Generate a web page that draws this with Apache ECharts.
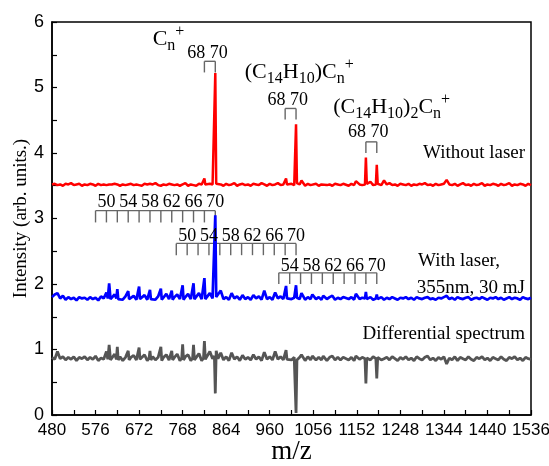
<!DOCTYPE html>
<html>
<head>
<meta charset="utf-8">
<script src="https://cdn.jsdelivr.net/npm/echarts@6/dist/echarts.min.js"></script>
<style>
  html, body { margin: 0; padding: 0; background: #fff; }
  #chart { width: 549px; height: 466px; }
</style>
</head>
<body>
<div id="chart"></div>
<script>
// ---------- DATA ----------
const mz = [
  480,486,492,498,504,510,516,522,528,534,540,546,552,558,564,570,576,582,588,594,
  598,600,603,606,609,612,618,622,624,626,630,636,642,646,648,650,
  654,660,666,670,672,674,678,684,690,694,696,698,702,708,714,718,720,722,
  726,732,738,742,744,746,750,756,762,766,768,770,774,780,786,790,792,794,
  798,804,810,814,816,818,822,828,834,838,840,842,846,852,
  858,864,870,876,882,888,894,900,906,912,918,924,930,936,942,948,954,960,966,972,978,984,990,
  994,996,998,1002,1008,1014,1016,1018,1020,1026,1030,1038,1044,1050,
  1054,1062,1068,1074,1078,1086,1092,1098,1104,1110,1116,1122,1126,1134,1140,1146,1150,1158,1164,
  1170,1172,1174,1182,1188,1194,1196,1198,1206,1212,
  1218,1224,1230,1236,1242,1248,1254,1260,1266,1272,1278,1284,1290,1296,1302,1308,1314,1320,1326,1332,
  1338,1344,1350,1356,1362,1368,1374,1380,1386,1392,1398,1404,1410,1416,1422,1428,1434,1440,1446,1452,
  1458,1464,1470,1476,1482,1488,1494,1500,1506,1512,1518,1524,1530,1536
];

const withoutLaser = [
  3.52,3.53,3.51,3.52,3.50,3.53,3.52,3.54,3.51,3.52,3.53,3.50,3.52,3.51,3.53,3.52,3.50,3.53,3.51,3.52,
  3.52,3.51,3.53,3.52,3.50,3.52,3.53,3.51,3.52,3.54,3.50,3.52,3.51,3.53,3.52,3.50,
  3.53,3.51,3.52,3.54,3.51,3.52,3.50,3.53,3.52,3.51,3.53,3.50,3.52,3.54,3.51,3.52,3.50,3.53,
  3.52,3.51,3.53,3.50,3.52,3.54,3.51,3.52,3.50,3.53,3.52,3.51,3.54,3.50,3.52,3.53,3.51,3.52,
  3.50,3.53,3.52,3.54,3.61,3.52,3.51,3.53,3.52,3.54,5.22,3.53,3.51,3.52,
  3.50,3.53,3.51,3.52,3.54,3.50,3.52,3.53,3.51,3.52,3.50,3.53,3.52,3.51,3.54,3.52,3.50,3.53,3.51,3.52,3.54,3.51,3.52,
  3.52,3.61,3.52,3.50,3.53,3.51,3.52,4.44,3.54,3.52,3.58,3.50,3.53,3.51,
  3.51,3.53,3.50,3.52,3.54,3.51,3.52,3.50,3.53,3.52,3.51,3.53,3.52,3.50,3.53,3.51,3.57,3.52,3.51,
  3.52,3.93,3.53,3.56,3.51,3.52,3.82,3.53,3.51,3.58,
  3.52,3.54,3.51,3.52,3.50,3.53,3.52,3.51,3.53,3.50,3.52,3.51,3.53,3.52,3.54,3.51,3.52,3.50,3.53,3.51,
  3.52,3.53,3.59,3.52,3.51,3.53,3.50,3.52,3.54,3.51,3.52,3.50,3.53,3.51,3.52,3.54,3.50,3.52,3.51,3.53,
  3.52,3.50,3.53,3.51,3.52,3.54,3.50,3.52,3.51,3.53,3.52,3.50,3.53,3.51
];

const withLaser = [
  1.80,1.84,1.86,1.78,1.82,1.76,1.80,1.77,1.79,1.75,1.80,1.78,1.79,1.76,1.80,1.77,1.79,1.75,1.81,1.78,
  1.79,1.87,1.78,2.01,1.77,1.80,1.84,1.78,1.92,1.77,1.80,1.76,1.81,1.78,1.89,1.77,
  1.80,1.82,1.76,1.79,1.96,1.77,1.80,1.83,1.76,1.79,1.91,1.77,1.80,1.76,1.81,1.78,1.93,1.76,
  1.79,1.85,1.77,1.79,1.90,1.76,1.80,1.84,1.77,1.79,1.98,1.76,1.80,1.85,1.77,1.79,2.01,1.77,
  1.80,1.86,1.77,1.79,2.09,1.77,1.80,1.86,1.78,1.80,3.05,1.80,1.78,1.90,
  1.77,1.80,1.76,1.86,1.78,1.81,1.76,1.83,1.77,1.80,1.76,1.83,1.78,1.81,1.76,1.90,1.77,1.80,1.76,1.87,1.78,1.81,1.77,
  1.79,1.97,1.78,1.80,1.77,1.79,1.78,1.98,1.79,1.77,1.86,1.76,1.80,1.77,
  1.84,1.77,1.80,1.76,1.82,1.77,1.80,1.82,1.76,1.79,1.77,1.80,1.83,1.77,1.80,1.76,1.85,1.77,1.79,
  1.78,1.88,1.77,1.80,1.76,1.78,1.84,1.77,1.80,1.76,
  1.79,1.77,1.80,1.78,1.76,1.79,1.78,1.80,1.77,1.79,1.76,1.80,1.78,1.77,1.79,1.80,1.77,1.78,1.76,1.79,
  1.78,1.80,1.82,1.77,1.79,1.76,1.80,1.78,1.77,1.79,1.80,1.76,1.78,1.79,1.77,1.80,1.78,1.76,1.79,1.78,
  1.80,1.77,1.79,1.76,1.78,1.80,1.77,1.79,1.78,1.76,1.80,1.78,1.77,1.79
];

const differential = [
  0.88,0.85,0.97,0.86,0.89,0.84,0.88,0.85,0.89,0.83,0.88,0.86,0.89,0.84,0.88,0.85,0.90,0.83,0.87,0.85,
  0.86,0.97,0.85,1.07,0.84,0.87,0.93,0.85,1.04,0.84,0.89,0.83,0.88,0.85,0.98,0.84,
  0.88,0.91,0.84,0.87,1.03,0.85,0.88,0.92,0.83,0.87,0.98,0.84,0.89,0.84,0.88,0.86,1.04,0.83,
  0.88,0.92,0.84,0.87,0.98,0.84,0.88,0.93,0.83,0.87,1.08,0.84,0.89,0.92,0.83,0.87,1.07,0.84,
  0.88,0.94,0.83,0.87,1.13,0.85,0.88,0.97,0.86,0.90,0.33,0.98,0.86,0.95,
  0.84,0.89,0.83,0.95,0.85,0.89,0.83,0.91,0.85,0.88,0.84,0.92,0.85,0.89,0.83,0.96,0.85,0.89,0.84,0.97,0.85,0.89,0.84,
  0.87,0.99,0.85,0.88,0.84,0.88,0.86,0.03,0.84,0.88,0.92,0.83,0.89,0.84,
  0.90,0.84,0.88,0.84,0.90,0.83,0.88,0.90,0.84,0.88,0.84,0.88,0.90,0.84,0.88,0.83,0.90,0.85,0.88,
  0.86,0.48,0.87,0.84,0.89,0.86,0.56,0.88,0.84,0.86,
  0.88,0.84,0.89,0.86,0.83,0.88,0.85,0.89,0.84,0.87,0.83,0.89,0.86,0.84,0.88,0.90,0.84,0.87,0.83,0.88,
  0.85,0.89,0.78,0.87,0.84,0.89,0.83,0.88,0.86,0.84,0.89,0.85,0.83,0.88,0.86,0.89,0.84,0.87,0.83,0.88,
  0.86,0.84,0.89,0.85,0.83,0.88,0.86,0.89,0.84,0.87,0.83,0.88,0.86,0.85
];

// Bracket tick positions (m/z) and their levels (intensity units)
const bracketTicks = [
  [816, 840],
  [994, 1018],
  [1172, 1196],
  [576, 600, 624, 648, 672, 696, 720, 744, 768, 792, 816, 840],
  [754, 778, 802, 826, 850, 874, 898, 922, 946, 970, 994, 1018],
  [980, 1004, 1028, 1052, 1076, 1100, 1124, 1148, 1172, 1196]
];
const bracketTop    = [5.40, 4.68, 4.17, 3.12, 2.62, 2.17];
const bracketBottom = [5.23, 4.51, 4.00, 2.94, 2.44, 2.00];

// Text annotations
const labelText = [
  'C{sub|n}{sup|+}',
  '(C{sub|14}H{sub|10})C{sub|n}{sup|+}',
  '(C{sub|14}H{sub|10}){sub|2}C{sub|n}{sup|+}',
  '68 70', '68 70', '68 70',
  '50', '54', '58', '62', '66', '70',
  '50', '54', '58', '62', '66', '70',
  '54', '58', '62', '66', '70',
  'Without laser', 'With laser,', '355nm, 30 mJ', 'Differential spectrum'
];
const labelMz = [
  702, 905, 1100,
  823, 1000, 1177,
  600, 648, 696, 744, 792, 840,
  778, 826, 874, 922, 970, 1018,
  1004, 1052, 1100, 1148, 1196,
  1523, 1287, 1284, 1523
];
const labelY = [
  5.74, 5.24, 4.70,
  5.53, 4.81, 4.32,
  3.25, 3.25, 3.25, 3.25, 3.25, 3.25,
  2.73, 2.73, 2.73, 2.73, 2.73, 2.73,
  2.27, 2.27, 2.27, 2.27, 2.27,
  4.00, 2.35, 1.94, 1.24
];
const labelKind = [
  'formula', 'formula', 'formula',
  'num', 'num', 'num',
  'num', 'num', 'num', 'num', 'num', 'num',
  'num', 'num', 'num', 'num', 'num', 'num',
  'num', 'num', 'num', 'num', 'num',
  'right', 'left', 'left', 'right'
];

const xTicks = { min: 480, max: 1536, interval: 96 };
const yTicks = { min: 0, max: 6, interval: 1 };

if (withoutLaser.length !== mz.length || withLaser.length !== mz.length || differential.length !== mz.length) {
  throw new Error('length mismatch ' + mz.length + ' ' + withoutLaser.length + ' ' + withLaser.length + ' ' + differential.length);
}

// ---------- CHART ----------
const SERIF = '"Liberation Serif", "Times New Roman", serif';
const SANS = '"Liberation Sans", Arial, sans-serif';

const chart = echarts.init(document.getElementById('chart'), null, { renderer: 'canvas' });

const pairs = arr => mz.map((m, i) => [m, arr[i]]);

const richStyles = {
  sub: { fontSize: 16, fontFamily: SERIF, verticalAlign: 'bottom', lineHeight: 16, fill: '#000' },
  sup: { fontSize: 16, fontFamily: SERIF, verticalAlign: 'top', lineHeight: 20, fill: '#000' }
};

const axisCommon = {
  axisLine: { show: true, lineStyle: { color: '#000', width: 1.5 } },
  axisTick: { show: true, inside: true, length: 5, lineStyle: { color: '#000', width: 1.2 } },
  minorTick: { show: true, splitNumber: 2, length: 5, lineStyle: { color: '#000', width: 1.2 } },
  splitLine: { show: false },
  nameMoveOverlap: false
};

const option = {
  animation: false,
  backgroundColor: '#fff',
  grid: { left: 52, right: 18, top: 22, bottom: 51, containLabel: false, outerBoundsMode: 'none',
          show: true, borderColor: '#000', borderWidth: 1.5, backgroundColor: 'transparent' },
  xAxis: Object.assign({
    type: 'value', min: xTicks.min, max: xTicks.max, interval: xTicks.interval,
    name: 'm/z', nameLocation: 'middle', nameGap: 23,
    nameTextStyle: { fontFamily: SERIF, fontSize: 27, color: '#000' },
    axisLabel: { fontFamily: SANS, fontSize: 17, color: '#000', margin: 7, formatter: v => String(v) }
  }, axisCommon),
  yAxis: Object.assign({
    type: 'value', min: yTicks.min, max: yTicks.max, interval: yTicks.interval,
    name: 'Intensity (arb. units.)', nameLocation: 'middle', nameGap: 21,
    nameTextStyle: { fontFamily: SERIF, fontSize: 19, color: '#000' },
    axisLabel: { fontFamily: SANS, fontSize: 18, color: '#000', margin: 8 }
  }, axisCommon),
  series: [
    {
      type: 'custom', name: 'brackets', z: 1, silent: true, clip: false,
      data: bracketTicks.map((t, i) => [t[0], bracketTop[i]]),
      encode: { x: 0, y: 1 },
      renderItem: (params, api) => {
        const i = params.dataIndex;
        const ticks = bracketTicks[i];
        const style = { stroke: '#666', lineWidth: 1.4 };
        const l = api.coord([ticks[0], bracketTop[i]]);
        const r = api.coord([ticks[ticks.length - 1], bracketTop[i]]);
        const children = [{ type: 'line', shape: { x1: l[0], y1: l[1], x2: r[0], y2: r[1] }, style }];
        ticks.forEach(t => {
          const a = api.coord([t, bracketTop[i]]);
          const b = api.coord([t, bracketBottom[i]]);
          children.push({ type: 'line', shape: { x1: a[0], y1: a[1], x2: b[0], y2: b[1] }, style });
        });
        return { type: 'group', children };
      }
    },
    {
      type: 'line', name: 'Without laser', data: pairs(withoutLaser), z: 2,
      showSymbol: false, symbol: 'none',
      lineStyle: { color: '#ff0000', width: 2.5 }, itemStyle: { color: '#ff0000' }
    },
    {
      type: 'line', name: 'With laser', data: pairs(withLaser), z: 2,
      showSymbol: false, symbol: 'none',
      lineStyle: { color: '#0000ff', width: 2.7 }, itemStyle: { color: '#0000ff' }
    },
    {
      type: 'line', name: 'Differential', data: pairs(differential), z: 2,
      showSymbol: false, symbol: 'none',
      lineStyle: { color: '#555555', width: 2.8 }, itemStyle: { color: '#555555' }
    },
    {
      type: 'custom', name: 'labels', z: 3, silent: true, clip: false,
      data: labelMz.map((m, i) => [m, labelY[i]]),
      encode: { x: 0, y: 1 },
      renderItem: (params, api) => {
        const i = params.dataIndex;
        const p = api.coord([labelMz[i], labelY[i]]);
        const kind = labelKind[i];
        let style;
        if (kind === 'formula') {
          style = { text: labelText[i], rich: richStyles, fontFamily: SERIF, fontSize: 22, lineHeight: 30,
                    fill: '#000', align: 'left', verticalAlign: 'middle' };
        } else if (kind === 'num') {
          style = { text: labelText[i], fontFamily: SERIF, fontSize: 18, fill: '#000', align: 'center', verticalAlign: 'middle' };
        } else {
          style = { text: labelText[i], fontFamily: SERIF, fontSize: 19, fill: '#000', align: kind, verticalAlign: 'middle' };
        }
        return { type: 'text', x: p[0], y: p[1], style };
      }
    }
  ]
};

chart.setOption(option);
</script>
</body>
</html>
